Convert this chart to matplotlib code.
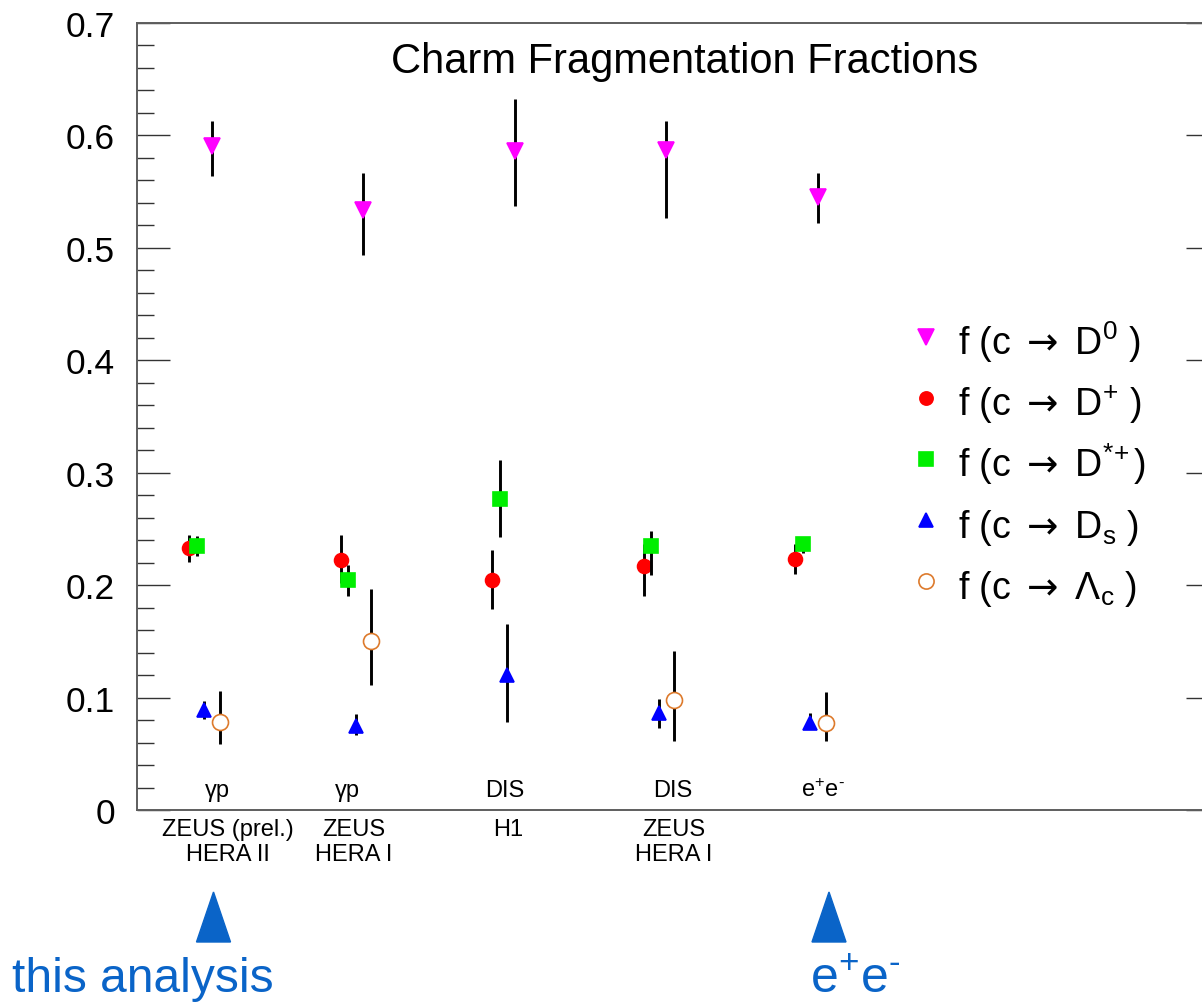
import matplotlib.pyplot as plt
import numpy as np
import matplotlib.transforms as mtransforms
from matplotlib.patches import Polygon
from matplotlib.ticker import MultipleLocator, FuncFormatter

plt.rcParams['font.family'] = ['Liberation Sans', 'DejaVu Sans']
plt.rcParams['mathtext.fontset'] = 'custom'
plt.rcParams['mathtext.rm'] = 'Liberation Sans'
plt.rcParams['mathtext.it'] = 'Liberation Sans:italic'
plt.rcParams['mathtext.bf'] = 'Liberation Sans:bold'
plt.rcParams['mathtext.sf'] = 'DejaVu Sans'

# measurements (left to right)
groups = [0, 1, 2, 3, 4]
process = ['γp', 'γp', 'DIS', 'DIS', 'e$^{+}$e$^{\\text{-}}$']
experiment = ['ZEUS (prel.)\nHERA II', 'ZEUS\nHERA I', 'H1', 'ZEUS\nHERA I', '']

f_D0 = [0.591, 0.534, 0.586, 0.587, 0.545]
f_D0_up = [0.022, 0.033, 0.046, 0.026, 0.022]
f_D0_dn = [0.027, 0.040, 0.049, 0.060, 0.023]

f_Dp = [0.233, 0.222, 0.205, 0.217, 0.223]
f_Dp_up = [0.012, 0.023, 0.026, 0.020, 0.014]
f_Dp_dn = [0.012, 0.020, 0.026, 0.027, 0.013]

f_Dst = [0.235, 0.205, 0.277, 0.235, 0.237]
f_Dst_up = [0.009, 0.013, 0.034, 0.013, 0.006]
f_Dst_dn = [0.009, 0.015, 0.034, 0.026, 0.008]

f_Ds = [0.089, 0.075, 0.120, 0.086, 0.077]
f_Ds_up = [0.008, 0.010, 0.045, 0.013, 0.009]
f_Ds_dn = [0.008, 0.008, 0.042, 0.013, 0.004]

f_Lc = [0.078, 0.150, np.nan, 0.098, 0.077]
f_Lc_up = [0.028, 0.047, 0.0, 0.043, 0.028]
f_Lc_dn = [0.019, 0.039, 0.0, 0.037, 0.016]

arrow = '$\\mathsf{\\rightarrow}$'
series = [
    # values, up, down, x shift, marker, size, face, edge, label
    (f_D0, f_D0_up, f_D0_dn, 0.00, 'v', 11.5, '#ff00ff', '#ff00ff', 'f (c ' + arrow + ' D$^{\\mathrm{0}}$ )'),
    (f_Dp, f_Dp_up, f_Dp_dn, -0.15, 'o', 10, '#ff0000', '#ff0000', 'f (c ' + arrow + ' D$^{\\mathrm{+}}$ )'),
    (f_Dst, f_Dst_up, f_Dst_dn, -0.10, 's', 10.5, '#00ee00', '#00ee00', 'f (c ' + arrow + ' D$^{\\mathrm{*\\!+}}$)'),
    (f_Ds, f_Ds_up, f_Ds_dn, -0.05, '^', 10.5, '#0000ff', '#0000ff', 'f (c ' + arrow + ' D$_{\\mathrm{s}}$ )'),
    (f_Lc, f_Lc_up, f_Lc_dn, 0.05, 'o', 11.5, 'white', '#dd7a2c', 'f (c ' + arrow + ' Λ$_{\\mathrm{c}}$ )'),
]

W, H = 1202, 1003
fig = plt.figure(figsize=(W / 100, H / 100), dpi=100)
ax = fig.add_axes([137 / W, 1 - 811 / H, (1219 - 137) / W, (811 - 24) / H])

x0 = np.array(groups, dtype=float)
for i, (vals, up, dn, dx, mk, ms, fc, ec, lab) in enumerate(series):
    ax.errorbar(x0 + dx, vals, yerr=[dn, up], fmt=mk, ms=ms, mfc=fc, mec=ec,
                mew=1.2, ecolor='black', elinewidth=2.1, capsize=0, zorder=3 + i)

ax.set_xlim(-0.495, 6.647)
ax.set_ylim(0, 0.7)
ax.set_xticks([])
ax.yaxis.set_major_locator(MultipleLocator(0.1))
ax.yaxis.set_minor_locator(MultipleLocator(0.02))
ax.yaxis.set_major_formatter(FuncFormatter(lambda v, p: '0' if abs(v) < 1e-9 else f'{v:.1f}'))
ax.tick_params(axis='y', which='major', direction='in', length=24, width=1.0,
               color='#333333', labelsize=25.5, pad=16, left=True, right=True)
ax.tick_params(axis='y', which='minor', direction='in', length=12, width=1.0,
               color='#333333', left=True, right=False)
for s in ax.spines.values():
    s.set_color('#5e5e5e')
    s.set_linewidth(1.4)

ax.text(0.506, 0.952, 'Charm Fragmentation Fractions', transform=ax.transAxes,
        ha='center', va='center', fontsize=30)

# process labels inside, experiment labels below the frame
trans = mtransforms.blended_transform_factory(ax.transData, ax.transAxes)
proc_x = [0.033, 0.891, 1.934, 3.043, 4.033]
exp_x = [0.106, 0.937, 1.954, 3.050, 4.0]
for g in groups:
    ax.text(proc_x[g], 0.0124, process[g], ha='center', va='baseline', fontsize=17)
    if experiment[g]:
        ax.text(exp_x[g], -0.0102, experiment[g], transform=trans, ha='center',
                va='top', fontsize=17, linespacing=1.2)

# legend
ppx = 1 / 1082
ppy = 1 / 787
for i, (vals, up, dn, dx, mk, ms, fc, ec, lab) in enumerate(series):
    my = (811 - (338 + 61 * i)) * ppy
    ax.plot([(926 - 137) * ppx], [my], marker=mk, ms=ms * 0.95, mfc=fc, mec=ec,
            mew=1.2, ls='none', transform=ax.transAxes, clip_on=False)
    ax.text((958 - 137) * ppx, my - 17 * ppy, lab, transform=ax.transAxes,
            ha='left', va='baseline', fontsize=27)

# annotations below the plot
blue = '#0a64c8'
for cx in (213.5, 829):
    tri = Polygon([((cx - 17) / W, 1 - 943 / H), ((cx + 17) / W, 1 - 943 / H),
                   (cx / W, 1 - 893 / H)], closed=True, color=blue,
                  transform=fig.transFigure)
    fig.add_artist(tri)
fig.text(12 / W, 1 - 992 / H, 'this analysis', color=blue, fontsize=34.5,
         ha='left', va='baseline')
fig.text(810 / W, 1 - 993 / H, 'e$^{+}$e$^{\\text{-}}$', color=blue, fontsize=36,
         ha='left', va='baseline')

fig.savefig('out.png', dpi=100)
